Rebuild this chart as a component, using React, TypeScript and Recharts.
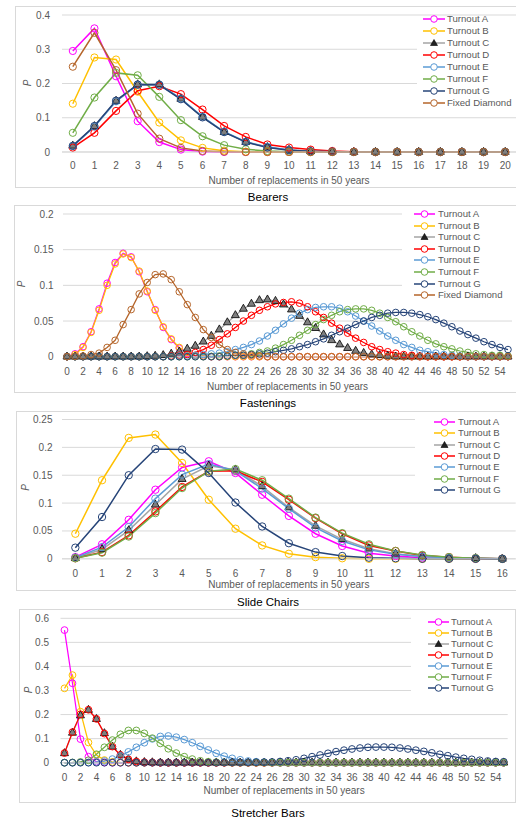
import React from 'react';
import { LineChart, Line, XAxis, YAxis, CartesianGrid, Legend, Label } from 'recharts';

const FONT = "'Liberation Sans', Arial, sans-serif";
const GRID = '#D9D9D9';
const TXT = '#595959';

// ---------- categories & ticks ----------
const bearersX = [0, 1, 2, 3, 4, 5, 6, 7, 8, 9, 10, 11, 12, 13, 14, 15, 16, 17, 18, 19, 20];
const bearersYTicks = [0, 0.1, 0.2, 0.3, 0.4];

const fastX = [
  0, 1, 2, 3, 4, 5, 6, 7, 8, 9, 10, 11, 12, 13, 14, 15, 16, 17, 18, 19, 20, 21, 22, 23, 24, 25, 26, 27,
  28, 29, 30, 31, 32, 33, 34, 35, 36, 37, 38, 39, 40, 41, 42, 43, 44, 45, 46, 47, 48, 49, 50, 51, 52, 53, 54, 55,
];
const fastXTicks = [0, 2, 4, 6, 8, 10, 12, 14, 16, 18, 20, 22, 24, 26, 28, 30, 32, 34, 36, 38, 40, 42, 44, 46, 48, 50, 52, 54];
const fastYTicks = [0, 0.05, 0.1, 0.15, 0.2];

const slideX = [0, 1, 2, 3, 4, 5, 6, 7, 8, 9, 10, 11, 12, 13, 14, 15, 16];
const slideYTicks = [0, 0.05, 0.1, 0.15, 0.2, 0.25];

const stretchX = fastX;
const stretchXTicks = fastXTicks;
const stretchYTicks = [0, 0.1, 0.2, 0.3, 0.4, 0.5, 0.6];

// ---------- Bearers ----------
const bearersA = [0.295, 0.361, 0.221, 0.090, 0.029, 0.007, 0.001, 0, 0, 0, 0, 0, 0, 0, 0, 0, 0, 0, 0, 0, 0];
const bearersB = [0.141, 0.276, 0.270, 0.176, 0.086, 0.034, 0.012, 0.004, 0.001, 0, 0, 0, 0, 0, 0, 0, 0, 0, 0, 0, 0];
const bearersC = [0.018, 0.075, 0.149, 0.197, 0.197, 0.155, 0.102, 0.058, 0.029, 0.014, 0.006, 0.002, 0.001, 0, 0, 0, 0, 0, 0, 0, 0];
const bearersD = [0.013, 0.056, 0.120, 0.179, 0.192, 0.169, 0.124, 0.076, 0.044, 0.022, 0.013, 0.007, 0.003, 0.001, 0, 0, 0, 0, 0, 0, 0];
const bearersE = [0.017, 0.074, 0.148, 0.196, 0.197, 0.156, 0.103, 0.059, 0.030, 0.015, 0.006, 0.002, 0.001, 0, 0, 0, 0, 0, 0, 0, 0];
const bearersF = [0.056, 0.159, 0.231, 0.224, 0.161, 0.093, 0.046, 0.020, 0.008, 0.003, 0.001, 0, 0, 0, 0, 0, 0, 0, 0, 0, 0];
const bearersG = [0.018, 0.076, 0.150, 0.197, 0.196, 0.154, 0.101, 0.058, 0.029, 0.013, 0.005, 0.002, 0.001, 0, 0, 0, 0, 0, 0, 0, 0];
const bearersFD = [0.249, 0.348, 0.239, 0.112, 0.039, 0.012, 0.003, 0.001, 0, 0, 0, 0, 0, 0, 0, 0, 0, 0, 0, 0, 0];

// ---------- Fastenings ----------
const fastA = [
  0, 0.004, 0.014, 0.035, 0.067, 0.103, 0.132, 0.145, 0.140, 0.119,
  0.091, 0.066, 0.041, 0.024, 0.012, 0.005, 0.002, 0.001, 0, 0,
  0, 0, 0, 0, 0, 0, 0, 0, 0, 0,
  0, 0, 0, 0, 0, 0, 0, 0, 0, 0,
  0, 0, 0, 0, 0, 0, 0, 0, 0, 0,
  0, 0, 0, 0, 0, 0,
];
const fastB = [
  0, 0.003, 0.013, 0.034, 0.065, 0.100, 0.130, 0.144, 0.139, 0.120,
  0.092, 0.065, 0.042, 0.025, 0.013, 0.006, 0.002, 0.001, 0, 0,
  0, 0, 0, 0, 0, 0, 0, 0, 0, 0,
  0, 0, 0, 0, 0, 0, 0, 0, 0, 0,
  0, 0, 0, 0, 0, 0, 0, 0, 0, 0,
  0, 0, 0, 0, 0, 0,
];
const fastC = [
  0, 0, 0, 0, 0, 0, 0, 0, 0, 0,
  0.0005, 0.001, 0.002, 0.004, 0.007, 0.011, 0.015, 0.021, 0.029, 0.038,
  0.048, 0.058, 0.067, 0.074, 0.079, 0.080, 0.078, 0.073, 0.066, 0.057,
  0.048, 0.040, 0.031, 0.023, 0.017, 0.012, 0.008, 0.005, 0.003, 0.002,
  0.001, 0, 0, 0, 0, 0, 0, 0, 0, 0,
  0, 0, 0, 0, 0, 0,
];
const fastD = [
  0, 0, 0, 0, 0, 0, 0, 0, 0, 0,
  0, 0, 0, 0.001, 0.002, 0.003, 0.006, 0.010, 0.016, 0.024,
  0.032, 0.041, 0.050, 0.058, 0.065, 0.070, 0.074, 0.076, 0.077, 0.075,
  0.070, 0.063, 0.055, 0.047, 0.040, 0.033, 0.026, 0.020, 0.014, 0.010,
  0.007, 0.005, 0.003, 0.002, 0.001, 0, 0, 0, 0, 0,
  0, 0, 0, 0, 0, 0,
];
const fastE = [
  0, 0, 0, 0, 0, 0, 0, 0, 0, 0,
  0, 0, 0, 0, 0.001, 0.001, 0.002, 0.003, 0.004, 0.005,
  0.007, 0.010, 0.013, 0.017, 0.022, 0.029, 0.037, 0.046, 0.054, 0.061,
  0.066, 0.069, 0.070, 0.070, 0.068, 0.063, 0.057, 0.050, 0.043, 0.036,
  0.029, 0.023, 0.017, 0.013, 0.009, 0.007, 0.005, 0.003, 0.002, 0.001,
  0, 0, 0, 0, 0, 0,
];
const fastF = [
  0, 0, 0, 0, 0, 0, 0, 0, 0, 0,
  0, 0, 0, 0, 0, 0, 0, 0, 0.0005, 0.001,
  0.001, 0.002, 0.002, 0.004, 0.006, 0.008, 0.012, 0.017, 0.023, 0.030,
  0.037, 0.045, 0.052, 0.058, 0.063, 0.066, 0.067, 0.067, 0.065, 0.061,
  0.055, 0.049, 0.042, 0.035, 0.029, 0.023, 0.018, 0.014, 0.011, 0.008,
  0.006, 0.004, 0.003, 0.002, 0.002, 0.001,
];
const fastG = [
  0, 0, 0, 0, 0, 0, 0, 0, 0, 0,
  0, 0, 0, 0, 0, 0, 0, 0, 0, 0,
  0.001, 0.002, 0.002, 0.003, 0.004, 0.005, 0.007, 0.009, 0.011, 0.014,
  0.017, 0.021, 0.025, 0.030, 0.035, 0.040, 0.045, 0.050, 0.055, 0.058,
  0.061, 0.062, 0.062, 0.061, 0.059, 0.056, 0.052, 0.047, 0.042, 0.036,
  0.031, 0.026, 0.021, 0.017, 0.013, 0.010,
];
const fastFD = [
  0, 0.0005, 0.001, 0.003, 0.005, 0.013, 0.023, 0.045, 0.066, 0.088,
  0.104, 0.115, 0.116, 0.108, 0.091, 0.073, 0.055, 0.038, 0.027, 0.017,
  0.010, 0.006, 0.004, 0.002, 0.001, 0, 0, 0, 0, 0,
  0, 0, 0, 0, 0, 0, 0, 0, 0, 0,
  0, 0, 0, 0, 0, 0, 0, 0, 0, 0,
  0, 0, 0, 0, 0, 0,
];

// ---------- Slide Chairs ----------
const slideA = [0.003, 0.026, 0.070, 0.124, 0.164, 0.175, 0.154, 0.115, 0.077, 0.045, 0.023, 0.010, 0.005, 0.002, 0.001, 0, 0];
const slideB = [0.045, 0.141, 0.217, 0.223, 0.172, 0.106, 0.054, 0.024, 0.009, 0.003, 0.001, 0, 0, 0, 0, 0, 0];
const slideC = [0.001, 0.017, 0.051, 0.097, 0.143, 0.167, 0.160, 0.130, 0.092, 0.059, 0.035, 0.018, 0.009, 0.004, 0.002, 0.001, 0];
const slideD = [0.001, 0.012, 0.042, 0.085, 0.129, 0.157, 0.158, 0.138, 0.106, 0.073, 0.045, 0.024, 0.014, 0.006, 0.003, 0.001, 0];
const slideE = [0.002, 0.021, 0.057, 0.108, 0.151, 0.170, 0.158, 0.126, 0.090, 0.056, 0.032, 0.016, 0.008, 0.004, 0.002, 0.001, 0];
const slideF = [0.001, 0.011, 0.040, 0.082, 0.127, 0.157, 0.161, 0.141, 0.108, 0.074, 0.046, 0.026, 0.014, 0.007, 0.003, 0.001, 0];
const slideG = [0.020, 0.075, 0.150, 0.197, 0.196, 0.154, 0.101, 0.058, 0.028, 0.012, 0.005, 0.002, 0.001, 0, 0, 0, 0];

// ---------- Stretcher Bars ----------
const stretchA = [
  0.551, 0.330, 0.098, 0.025, 0.004, 0.001, 0, 0, 0, 0,
  0, 0, 0, 0, 0, 0, 0, 0, 0, 0,
  0, 0, 0, 0, 0, 0, 0, 0, 0, 0,
  0, 0, 0, 0, 0, 0, 0, 0, 0, 0,
  0, 0, 0, 0, 0, 0, 0, 0, 0, 0,
  0, 0, 0, 0, 0, 0,
];
const stretchB = [
  0.309, 0.364, 0.212, 0.084, 0.032, 0.011, 0.003, 0.001, 0, 0,
  0, 0, 0, 0, 0, 0, 0, 0, 0, 0,
  0, 0, 0, 0, 0, 0, 0, 0, 0, 0,
  0, 0, 0, 0, 0, 0, 0, 0, 0, 0,
  0, 0, 0, 0, 0, 0, 0, 0, 0, 0,
  0, 0, 0, 0, 0, 0,
];
const stretchC = [
  0.039, 0.124, 0.196, 0.219, 0.181, 0.122, 0.066, 0.032, 0.014, 0.005,
  0.002, 0.001, 0, 0, 0, 0, 0, 0, 0, 0,
  0, 0, 0, 0, 0, 0, 0, 0, 0, 0,
  0, 0, 0, 0, 0, 0, 0, 0, 0, 0,
  0, 0, 0, 0, 0, 0, 0, 0, 0, 0,
  0, 0, 0, 0, 0, 0,
];
const stretchD = [
  0.040, 0.127, 0.201, 0.220, 0.182, 0.121, 0.067, 0.032, 0.014, 0.005,
  0.002, 0.001, 0, 0, 0, 0, 0, 0, 0, 0,
  0, 0, 0, 0, 0, 0, 0, 0, 0, 0,
  0, 0, 0, 0, 0, 0, 0, 0, 0, 0,
  0, 0, 0, 0, 0, 0, 0, 0, 0, 0,
  0, 0, 0, 0, 0, 0,
];
const stretchE = [
  0, 0, 0.001, 0.001, 0.003, 0.007, 0.015, 0.028, 0.045, 0.064,
  0.083, 0.099, 0.109, 0.111, 0.106, 0.096, 0.083, 0.068, 0.053, 0.039,
  0.027, 0.018, 0.012, 0.007, 0.004, 0.002, 0.001, 0, 0, 0,
  0, 0, 0, 0, 0, 0, 0, 0, 0, 0,
  0, 0, 0, 0, 0, 0, 0, 0, 0, 0,
  0, 0, 0, 0, 0, 0,
];
const stretchF = [
  0, 0.001, 0.003, 0.010, 0.035, 0.064, 0.094, 0.118, 0.134, 0.134,
  0.122, 0.102, 0.080, 0.058, 0.040, 0.025, 0.015, 0.008, 0.004, 0.002,
  0.001, 0, 0, 0, 0, 0, 0, 0, 0, 0,
  0, 0, 0, 0, 0, 0, 0, 0, 0, 0,
  0, 0, 0, 0, 0, 0, 0, 0, 0, 0,
  0, 0, 0, 0, 0, 0,
];
const stretchG = [
  0, 0, 0, 0, 0, 0, 0, 0, 0, 0,
  0, 0, 0, 0, 0, 0, 0, 0, 0, 0,
  0.0005, 0.001, 0.001, 0.001, 0.002, 0.002, 0.003, 0.005, 0.008, 0.012,
  0.018, 0.025, 0.032, 0.039, 0.046, 0.052, 0.057, 0.061, 0.064, 0.065,
  0.065, 0.064, 0.061, 0.057, 0.052, 0.047, 0.041, 0.035, 0.029, 0.023,
  0.018, 0.014, 0.010, 0.007, 0.005, 0.004,
];

// ---------- series styling ----------
type SeriesDef = { key: string; name: string; color: string; tri?: boolean };
const SERIES: Record<string, SeriesDef> = {
  A: { key: 'A', name: 'Turnout A', color: '#FF00FF' },
  B: { key: 'B', name: 'Turnout B', color: '#FFC000' },
  C: { key: 'C', name: 'Turnout C', color: '#A5A5A5', tri: true },
  D: { key: 'D', name: 'Turnout D', color: '#FF0000' },
  E: { key: 'E', name: 'Turnout E', color: '#5B9BD5' },
  F: { key: 'F', name: 'Turnout F', color: '#70AD47' },
  G: { key: 'G', name: 'Turnout G', color: '#264478' },
  FD: { key: 'FD', name: 'Fixed Diamond', color: '#B5652A' },
};

type PanelDef = {
  title: string;
  x: number[];
  xTicks: number[];
  yTicks: number[];
  values: Record<string, number[]>;
  keys: string[];
  box: { top: number; bottom: number; left: number; right: number };
  plot: { left: number; right: number; top: number; bottom: number };
  xTickMargin: number;
  yTickMargin: number;
  xTitleY: number;
  pLabel: { x: number; y: number };
  titleY: number;
  legend: { left: number; top: number; width: number; height: number; first: number; step: number; iconLeft: number; iconW: number; textLeft: number };
  r: number;
  lw: number;
};

const PANELS: PanelDef[] = [
  {
    title: 'Bearers',
    x: bearersX, xTicks: bearersX, yTicks: bearersYTicks,
    values: { A: bearersA, B: bearersB, C: bearersC, D: bearersD, E: bearersE, F: bearersF, G: bearersG, FD: bearersFD },
    keys: ['A', 'B', 'C', 'D', 'E', 'F', 'G', 'FD'],
    box: { top: 6, bottom: 188, left: 15, right: 530 },
    plot: { left: 62, right: 516, top: 15, bottom: 152 },
    xTickMargin: 9.5, yTickMargin: 12, xTitleY: 180, pLabel: { x: 27, y: 83 }, titleY: 196.7,
    legend: { left: 417, top: 16, width: 99, height: 94, first: 19, step: 12, iconLeft: 423, iconW: 22, textLeft: 447 },
    r: 3.6, lw: 1.5,
  },
  {
    title: 'Fastenings',
    x: fastX, xTicks: fastXTicks, yTicks: fastYTicks,
    values: { A: fastA, B: fastB, C: fastC, D: fastD, E: fastE, F: fastF, G: fastG, FD: fastFD },
    keys: ['A', 'B', 'C', 'D', 'E', 'F', 'G', 'FD'],
    box: { top: 205, bottom: 393, left: 14, right: 530 },
    plot: { left: 63, right: 512, top: 214, bottom: 356.7 },
    xTickMargin: 11.5, yTickMargin: 9.5, xTitleY: 386, pLabel: { x: 21, y: 284 }, titleY: 402.5,
    legend: { left: 402, top: 207, width: 110, height: 96, first: 214, step: 11.6, iconLeft: 414, iconW: 21, textLeft: 438 },
    r: 3.3, lw: 1.25,
  },
  {
    title: 'Slide Chairs',
    x: slideX, xTicks: slideX, yTicks: slideYTicks,
    values: { A: slideA, B: slideB, C: slideC, D: slideD, E: slideE, F: slideF, G: slideG },
    keys: ['A', 'B', 'C', 'D', 'E', 'F', 'G'],
    box: { top: 410.5, bottom: 591, left: 15.5, right: 530 },
    plot: { left: 62, right: 515.7, top: 419, bottom: 558.3 },
    xTickMargin: 11.2, yTickMargin: 9.5, xTitleY: 584, pLabel: { x: 25, y: 487 }, titleY: 601.7,
    legend: { left: 415, top: 413, width: 101, height: 84, first: 421.7, step: 11.4, iconLeft: 434, iconW: 21, textLeft: 458 },
    r: 3.7, lw: 1.5,
  },
  {
    title: 'Stretcher Bars',
    x: stretchX, xTicks: stretchXTicks, yTicks: stretchYTicks,
    values: { A: stretchA, B: stretchB, C: stretchC, D: stretchD, E: stretchE, F: stretchF, G: stretchG },
    keys: ['A', 'B', 'C', 'D', 'E', 'F', 'G'],
    box: { top: 609, bottom: 803, left: 19, right: 515.5 },
    plot: { left: 60.5, right: 507.7, top: 618.3, bottom: 762.7 },
    xTickMargin: 11.5, yTickMargin: 11.5, xTitleY: 790, pLabel: { x: 28, y: 690 }, titleY: 813,
    legend: { left: 411, top: 613, width: 96.7, height: 87, first: 622.3, step: 11, iconLeft: 427.7, iconW: 21, textLeft: 451 },
    r: 3.4, lw: 1.25,
  },
];

const triPoints = (cx: number, cy: number, w: number, h: number) =>
  `${cx},${cy - (2 * h) / 3} ${cx - w / 2},${cy + h / 3} ${cx + w / 2},${cy + h / 3}`;

const makeDot = (s: SeriesDef, r: number) => (props: any) => {
  const { cx, cy, index } = props;
  const k = `${s.key}-${index}`;
  if (cx == null || cy == null || isNaN(cx) || isNaN(cy)) return <g key={k} />;
  if (s.tri) {
    return <polygon key={k} points={triPoints(cx, cy, 8, 7)} fill="#7F7F7F" stroke="#000" strokeWidth={0.8} />;
  }
  return <circle key={k} cx={cx} cy={cy} r={r} fill="none" stroke={s.color} strokeWidth={1} />;
};

const makeLegend = (p: PanelDef) => () => {
  const L = p.legend;
  return (
    <div style={{ position: 'relative', width: L.width, height: L.height, background: '#fff' }}>
      {p.keys.map((k, i) => {
        const s = SERIES[k];
        const cy = L.first + i * L.step - L.top;
        return (
          <div key={k} style={{ position: 'absolute', left: 0, top: cy - 6, height: 12, width: L.width }}>
            <svg style={{ position: 'absolute', left: L.iconLeft - L.left, top: 0, overflow: 'visible' }} width={L.iconW} height={12}>
              <line x1={0} y1={6} x2={L.iconW} y2={6} stroke={s.color} strokeWidth={1.5} />
              {s.tri ? (
                <polygon points={triPoints(L.iconW / 2, 6.5, 7, 6)} fill="#222" stroke="#000" strokeWidth={0.6} />
              ) : (
                <circle cx={L.iconW / 2} cy={6} r={3.3} fill="#fff" stroke={s.color} strokeWidth={1} />
              )}
            </svg>
            <span
              style={{
                position: 'absolute', left: L.textLeft - L.left, top: 0, lineHeight: '12px', fontSize: 9.6,
                fontFamily: FONT, color: TXT, whiteSpace: 'nowrap',
              }}
            >
              {s.name}
            </span>
          </div>
        );
      })}
    </div>
  );
};

function Panel({ p }: { p: PanelDef }) {
  const H = p.box.bottom - p.box.top;
  const xAxisH = 24;
  const rows = p.x.map((xv, i) => {
    const r: Record<string, number> = { x: xv };
    p.keys.forEach((k) => {
      r[k] = p.values[k][i];
    });
    return r;
  });
  const yMax = p.yTicks[p.yTicks.length - 1];
  const xMin = p.x[0] - 0.5;
  const xMax = p.x[p.x.length - 1] + 0.5;
  const titleX = (p.plot.left + p.plot.right) / 2;
  return (
    <>
      <div
        style={{
          position: 'absolute', left: p.box.left, top: p.box.top, width: p.box.right - p.box.left, height: H,
          border: `1px solid ${GRID}`, boxSizing: 'border-box', background: '#fff',
        }}
      />
      <div style={{ position: 'absolute', left: 0, top: p.box.top, width: 516, height: H }}>
        <LineChart
          width={516}
          height={H}
          data={rows}
          margin={{ top: p.plot.top - p.box.top, right: 516 - p.plot.right, left: 0, bottom: p.box.bottom - p.plot.bottom - xAxisH }}
        >
          <CartesianGrid vertical={false} stroke={GRID} strokeWidth={1} />
          <XAxis
            dataKey="x"
            type="number"
            domain={[xMin, xMax]}
            ticks={p.xTicks}
            interval={0}
            height={xAxisH}
            tickLine={false}
            tickSize={0}
            tickMargin={p.xTickMargin}
            axisLine={{ stroke: GRID }}
            tick={{ fill: TXT, fontSize: 10, fontFamily: FONT }}
          >
            <Label
              content={() => (
                <text
                  x={titleX}
                  y={p.xTitleY - p.box.top}
                  textAnchor="middle"
                  dominantBaseline="central"
                  fill={TXT}
                  fontSize={10}
                  fontFamily={FONT}
                >
                  Number of replacements in 50 years
                </text>
              )}
            />
          </XAxis>
          <YAxis
            type="number"
            width={p.plot.left}
            domain={[0, yMax]}
            ticks={p.yTicks}
            interval={0}
            axisLine={false}
            tickLine={false}
            tickSize={0}
            tickMargin={p.yTickMargin}
            tick={{ fill: TXT, fontSize: 10, fontFamily: FONT }}
          >
            <Label
              content={() => (
                <text
                  x={p.pLabel.x}
                  y={p.pLabel.y - p.box.top}
                  transform={`rotate(-90, ${p.pLabel.x}, ${p.pLabel.y - p.box.top})`}
                  textAnchor="middle"
                  dominantBaseline="central"
                  fill={TXT}
                  fontSize={10}
                  fontStyle="italic"
                  fontFamily={FONT}
                >
                  P
                </text>
              )}
            />
          </YAxis>
          <Legend
            layout="vertical"
            align="center"
            verticalAlign="middle"
            content={makeLegend(p)}
            wrapperStyle={{ left: p.legend.left, top: p.legend.top - p.box.top, width: p.legend.width, height: p.legend.height }}
          />
          {p.keys.map((k) => {
            const s = SERIES[k];
            return (
              <Line
                key={k}
                type="linear"
                dataKey={k}
                name={s.name}
                stroke={s.color}
                strokeWidth={p.lw}
                dot={makeDot(s, p.r)}
                activeDot={false}
                isAnimationActive={false}
              />
            );
          })}
        </LineChart>
      </div>
      <div
        style={{
          position: 'absolute', left: 168, width: 200, top: p.titleY - 7, height: 14, lineHeight: '14px',
          textAlign: 'center', fontSize: 11.5, fontWeight: 400, fontFamily: FONT, color: '#000',
        }}
      >
        {p.title}
      </div>
    </>
  );
}

export default function App() {
  return (
    <div style={{ position: 'absolute', left: 0, top: 0, width: 516, height: 821, overflow: 'hidden', background: '#fff' }}>
      {PANELS.map((p) => (
        <Panel key={p.title} p={p} />
      ))}
    </div>
  );
}
